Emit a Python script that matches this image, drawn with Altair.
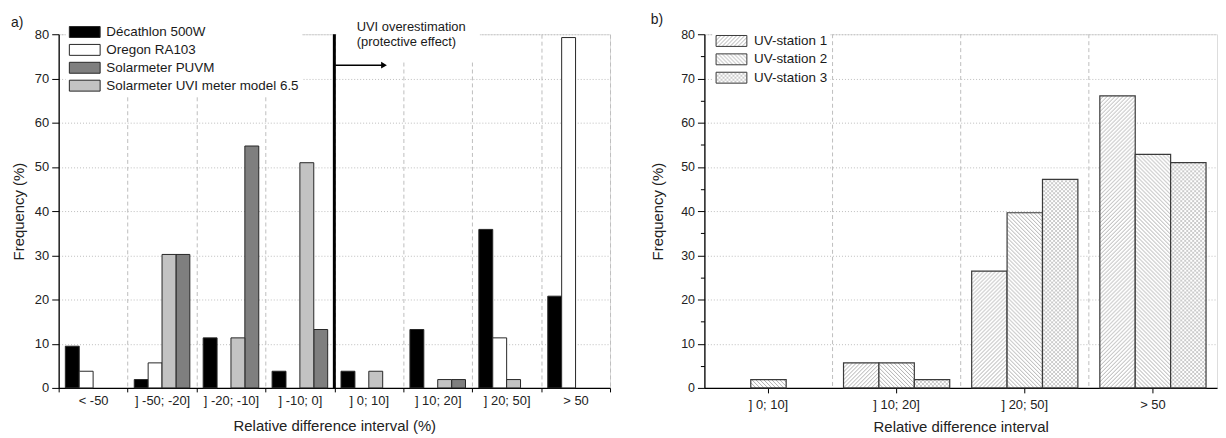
import altair as alt
import pandas as pd
import altair.utils.html as _alt_html

# ---------------- data ----------------
cats_a = ["< -50", "] -50; -20]", "] -20; -10]", "] -10; 0]", "] 0; 10]", "] 10; 20]", "] 20; 50]", "> 50"]
series_a = ["Décathlon 500W", "Oregon RA103", "Solarmeter PUVM", "Solarmeter UVI meter model 6.5"]
bar_order_a = ["Décathlon 500W", "Oregon RA103", "Solarmeter UVI meter model 6.5", "Solarmeter PUVM"]
decathlon = [9.43, 1.89, 11.32, 3.77, 3.77, 13.21, 35.85, 20.75]
oregon = [3.77, 5.66, 0, 0, 0, 0, 11.32, 79.25]
puvm = [0, 30.19, 54.72, 13.21, 0, 1.89, 0, 0]
uvi65 = [0, 30.19, 11.32, 50.94, 3.77, 1.89, 1.89, 0]
colors_a = ["#000000", "#ffffff", "#7f7f7f", "#c3c3c3"]

cats_b = ["] 0; 10]", "] 10; 20]", "] 20; 50]", "> 50"]
stations = ["UV-station 1", "UV-station 2", "UV-station 3"]
station1 = [0, 5.66, 26.42, 66.04]
station2 = [1.89, 5.66, 39.62, 52.83]
station3 = [0, 1.89, 47.17, 50.94]
patterns_b = ["url(#hatch1)", "url(#hatch2)", "url(#hatch3)"]

# ---------------- hatch patterns injected into the page ----------------
PATTERN_DEFS = """
<svg style="position:absolute;width:0;height:0;overflow:hidden" aria-hidden="true">
 <defs>
  <pattern id="hatch1" patternUnits="userSpaceOnUse" width="4" height="4">
   <rect width="4" height="4" fill="#ffffff"/>
   <path d="M0,4 L4,0 M-1,1 L1,-1 M3,5 L5,3" stroke="#9a9a9a" stroke-width="0.8"/>
  </pattern>
  <pattern id="hatch2" patternUnits="userSpaceOnUse" width="4" height="4">
   <rect width="4" height="4" fill="#ffffff"/>
   <path d="M0,0 L4,4 M-1,3 L1,5 M3,-1 L5,1" stroke="#9a9a9a" stroke-width="0.8"/>
  </pattern>
  <pattern id="hatch3" patternUnits="userSpaceOnUse" width="4" height="4">
   <rect width="4" height="4" fill="#ffffff"/>
   <path d="M0,4 L4,0 M-1,1 L1,-1 M3,5 L5,3 M0,0 L4,4 M-1,3 L1,5 M3,-1 L5,1" stroke="#a8a8a8" stroke-width="0.6"/>
  </pattern>
 </defs>
</svg>
"""

_std_template = _alt_html.TEMPLATES["standard"]


class _PatternTemplate:
    def render(self, *args, **kwargs):
        out = _std_template.render(*args, **kwargs)
        if "<body>" in out:
            return out.replace("<body>", "<body>\n" + PATTERN_DEFS, 1)
        return PATTERN_DEFS + out


_alt_html.TEMPLATES["standard"] = _PatternTemplate()

# ---------------- layout constants ----------------
FONT = "Liberation Sans"
W_A, W_B, H = 555, 516, 356
RECT_PATH = "M-2.818,-1 H2.818 V1 H-2.818 Z"

df_a = pd.DataFrame(
    [{"cat": c, "series": s, "value": v}
     for s, vals in zip(series_a, [decathlon, oregon, puvm, uvi65])
     for c, v in zip(cats_a, vals)]
)
df_b = pd.DataFrame(
    [{"cat": c, "station": s, "value": v}
     for s, vals in zip(stations, [station1, station2, station3])
     for c, v in zip(cats_b, vals)]
)
one = pd.DataFrame({"k": [0]})


def y_axis(label_size, title_pad):
    return alt.Axis(
        values=list(range(0, 81, 5)),
        labelExpr="datum.value % 10 ? '' : datum.label",
        tickSize={"condition": {"test": "datum.value % 10 !== 0", "value": 4}, "value": 7},
        gridOpacity={"condition": {"test": "datum.value % 10 !== 0 || datum.value === 0", "value": 0}, "value": 1},
        gridDash=[1, 2], gridColor="#bdbdbd", gridWidth=1,
        domainColor="#000000", domainWidth=1.3, tickColor="#000000", tickWidth=1,
        labelFont=FONT, labelFontSize=label_size, labelColor="#222222", labelPadding=3,
        title="Frequency (%)", titleFont=FONT, titleFontSize=15, titleFontWeight="normal",
        titleColor="#222222", titlePadding=title_pad,
    )


y_scale = alt.Scale(domain=[0, 80], nice=False, zero=True)

# ---------------- panel a ----------------
bars_a = alt.Chart(df_a).transform_filter("datum.value > 0").mark_bar(
    stroke="#262626", strokeWidth=1
).encode(
    x=alt.X("cat:N", scale=alt.Scale(domain=cats_a, paddingInner=0, paddingOuter=0),
            axis=alt.Axis(title="Relative difference interval (%)", tickBand="extent", labelAngle=0,
                          grid=True, gridDash=[4, 3], gridColor="#bdbdbd",
                          gridOpacity={"condition": {"test": "datum.extra", "value": 0}, "value": 1},
                          tickSize=4, tickColor="#000000", domainColor="#000000", domainWidth=1.3,
                          labelFont=FONT, labelFontSize=13, labelColor="#222222", labelPadding=3,
                          titleFont=FONT, titleFontSize=15, titleFontWeight="normal",
                          titleColor="#222222", titlePadding=11)),
    xOffset=alt.XOffset("series:N", scale=alt.Scale(domain=bar_order_a, paddingInner=0, paddingOuter=0.48)),
    y=alt.Y("value:Q", scale=y_scale, axis=y_axis(13, 8)),
    color=alt.Color("series:N", scale=alt.Scale(domain=series_a, range=colors_a),
                    legend=alt.Legend(title=None, orient="none", legendX=7, legendY=-12,
                                      symbolType=RECT_PATH, symbolSize=121, symbolOffset=9.5,
                                      labelOffset=15, rowPadding=2, padding=3, fillColor="white",
                                      symbolStrokeColor="#262626", symbolStrokeWidth=1,
                                      symbolOpacity=1, labelFont=FONT, labelFontSize=13.5,
                                      labelColor="#1a1a1a", labelLimit=400)),
)

mask = alt.Chart(one).mark_rect(color="white").encode(
    x=alt.value(W_A / 2 + 2), x2=alt.value(424), y=alt.value(-22), y2=alt.value(27)
)
vline = alt.Chart(pd.DataFrame({"cat": ["] 0; 10]"]})).mark_rule(color="black", strokeWidth=3).encode(
    x=alt.X("cat:N", bandPosition=0), y=alt.datum(0), y2=alt.datum(80)
)
arrow = alt.Chart(one).mark_rule(color="black", strokeWidth=1.5).encode(
    x=alt.value(W_A / 2 + 1), x2=alt.value(W_A / 2 + 48), y=alt.datum(73)
)
head = alt.Chart(one).mark_point(shape="triangle-right", filled=True, size=45, color="black", opacity=1).encode(
    x=alt.value(W_A / 2 + 50), y=alt.datum(73)
)
note1 = alt.Chart(one).mark_text(align="left", baseline="middle", font=FONT, fontSize=13, color="#1a1a1a").encode(
    x=alt.value(300), y=alt.value(-7), text=alt.value("UVI overestimation")
)
note2 = alt.Chart(one).mark_text(align="left", baseline="middle", font=FONT, fontSize=13, color="#1a1a1a").encode(
    x=alt.value(300), y=alt.value(8), text=alt.value("(protective effect)")
)
tag_a = alt.Chart(one).mark_text(align="left", baseline="middle", font=FONT, fontSize=14, color="#1a1a1a").encode(
    x=alt.value(-48), y=alt.value(-11), text=alt.value("a)")
)

panel_a = alt.layer(bars_a, mask, vline, arrow, head, note1, note2, tag_a).properties(width=W_A, height=H)

# ---------------- panel b ----------------
bars_b = alt.Chart(df_b).transform_filter("datum.value > 0").mark_bar(
    stroke="#3a3a3a", strokeWidth=1.2
).encode(
    x=alt.X("cat:N", scale=alt.Scale(domain=cats_b, paddingInner=0, paddingOuter=0),
            axis=alt.Axis(title="Relative difference interval", labelAngle=0, grid=False,
                          tickSize=5, tickColor="#000000", domainColor="#000000", domainWidth=1.3,
                          labelFont=FONT, labelFontSize=13, labelColor="#222222", labelPadding=6,
                          titleFont=FONT, titleFontSize=15, titleFontWeight="normal",
                          titleColor="#222222", titlePadding=8)),
    xOffset=alt.XOffset("station:N", scale=alt.Scale(domain=stations, paddingInner=0, paddingOuter=0.31)),
    y=alt.Y("value:Q", scale=y_scale, axis=y_axis(12.5, 15)),
    color=alt.Color("station:N", scale=alt.Scale(domain=stations, range=patterns_b),
                    legend=alt.Legend(title=None, orient="none", legendX=8, legendY=-3,
                                      symbolType=RECT_PATH, symbolSize=121, symbolOffset=9.5,
                                      labelOffset=16, rowPadding=2.5, padding=3, fillColor="white",
                                      symbolStrokeColor="#3a3a3a", symbolStrokeWidth=1,
                                      symbolOpacity=1, labelFont=FONT, labelFontSize=13.5,
                                      labelColor="#1a1a1a")),
)
vgrid_b = alt.Chart(pd.DataFrame({"cat": cats_b[1:]})).mark_rule(
    color="#bdbdbd", strokeDash=[4, 3], strokeWidth=1
).encode(x=alt.X("cat:N", bandPosition=0), y=alt.value(0), y2=alt.value(H))
tag_b = alt.Chart(one).mark_text(align="left", baseline="middle", font=FONT, fontSize=14, color="#1a1a1a").encode(
    x=alt.value(-54), y=alt.value(-14), text=alt.value("b)")
)

panel_b = alt.layer(bars_b, vgrid_b, tag_b).properties(width=W_B, height=H)

chart = alt.hconcat(panel_a, panel_b, spacing=39).resolve_scale(
    color="independent", xOffset="independent", x="independent", y="independent"
).resolve_legend(color="independent").properties(
    padding={"left": 2, "top": 2, "right": 0, "bottom": 0}
).configure_view(strokeWidth=0).configure(font=FONT)

chart.save("out.html", embed_options={"renderer": "svg", "actions": False})
